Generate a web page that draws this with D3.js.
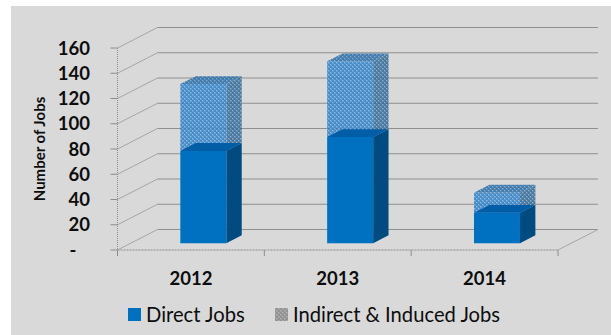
<!DOCTYPE html>
<html>
<head>
<meta charset="utf-8">
<script src="https://cdn.jsdelivr.net/npm/d3@7"></script>
<style>
html,body{margin:0;padding:0;background:#fff}
svg{display:block}
text{font-family:Lato,"Open Sans",sans-serif}
</style>
</head>
<body>
<div id="chart"></div>
<script>
// Job counts per year, stacked in a pseudo-3D column chart
const years = ["2012", "2013", "2014"];
const directJobs = [73, 84, 24];
const indirectJobs = [53, 60, 16];
const valueTicks = [0, 20, 40, 60, 80, 100, 120, 140, 160];
const tickLabels = ["-\u00a0\u00a0\u00a0", "20", "40", "60", "80", "100", "120", "140", "160"];
const legendLabels = ["Direct Jobs", "Indirect & Induced Jobs"];

const width = 611, height = 335;
const svg = d3.select("#chart").append("svg").attr("width", width).attr("height", height);

// Front-plane scales
const x = d3.scaleBand().domain(years).range([117.5, 558]);
const y = d3.scaleLinear().domain([0, 160]).range([250, 48]);

// Oblique projection: depth 0 is the front of the floor, 1 the back wall
const depthX = 40, depthY = -20.5;
const px = (xv, d) => xv + depthX * d;
const py = (v, d) => y(v) + depthY * d;

const barFront = 0.335, barBack = 0.72, barWidth = 46;

const defs = svg.append("defs");
function lattice(id, bg, dot, hole) {
  const p = defs.append("pattern").attr("id", id).attr("width", 4).attr("height", 4)
    .attr("patternUnits", "userSpaceOnUse");
  p.append("rect").attr("width", 4).attr("height", 4).attr("fill", bg);
  p.append("rect").attr("x", 0).attr("y", 0).attr("width", 2).attr("height", 2).attr("fill", dot);
  p.append("rect").attr("x", 2).attr("y", 2).attr("width", 2).attr("height", 2).attr("fill", dot);
  p.append("rect").attr("x", 2).attr("y", 0).attr("width", 1).attr("height", 1).attr("fill", hole);
  p.append("rect").attr("x", 0).attr("y", 2).attr("width", 1).attr("height", 1).attr("fill", hole);
}
lattice("frontLattice", "#4b94d2", "#2f80c6", "#86b6de");
lattice("sideLattice", "#4d7ea6", "#2f6a9a", "#8fa9bd");
lattice("topLattice", "#3f7cb0", "#2a6ea8", "#7fa5c4");
lattice("legendLattice", "#a0a0a0", "#929292", "#b4b4b4");

svg.append("rect").attr("x", 11).attr("y", 6).attr("width", 600).attr("height", 329).attr("fill", "#d9d9d9");

// Back wall gridlines and their slanted returns along the side wall
const grid = svg.append("g");
valueTicks.forEach(v => {
  grid.append("path")
    .attr("d", d3.line()([[px(x.range()[0], 0), py(v, 0)], [px(x.range()[0], 1), py(v, 1)]]))
    .attr("fill", "none").attr("stroke", "#a6a6a6").attr("stroke-width", 1);
  grid.append("line")
    .attr("x1", px(x.range()[0], 1)).attr("x2", px(x.range()[1], 1))
    .attr("y1", py(v, 1)).attr("y2", py(v, 1))
    .attr("stroke", "#8f8f8f").attr("stroke-width", 1);
});
// Floor edge on the right-hand side
grid.append("line")
  .attr("x1", px(x.range()[1], 0)).attr("x2", px(x.range()[1], 1))
  .attr("y1", py(0, 0)).attr("y2", py(0, 1))
  .attr("stroke", "#a6a6a6");

// Value axis and category axis in the front plane
const axisColor = "#8c8c8c";
svg.append("line").attr("x1", x.range()[0]).attr("x2", x.range()[0])
  .attr("y1", y(160)).attr("y2", y(0) + 6)
  .attr("stroke", axisColor).attr("stroke-dasharray", "1 1");
svg.append("line").attr("x1", x.range()[0]).attr("x2", x.range()[1])
  .attr("y1", y(0)).attr("y2", y(0))
  .attr("stroke", axisColor).attr("stroke-dasharray", "2 1");
valueTicks.forEach(v => {
  svg.append("line").attr("x1", x.range()[0] - 7).attr("x2", x.range()[0])
    .attr("y1", y(v)).attr("y2", y(v)).attr("stroke", axisColor);
});
[...years.map(c => x(c)), x.range()[1]].forEach(t => {
  svg.append("line").attr("x1", t).attr("x2", t)
    .attr("y1", y(0)).attr("y2", y(0) + 6).attr("stroke", axisColor);
});

valueTicks.forEach((v, i) => {
  svg.append("text").attr("x", 90).attr("y", y(v)).attr("dy", "0.36em")
    .attr("text-anchor", "end").attr("font-size", 18.5).attr("font-weight", 700)
    .attr("fill", "#0d0d0d").text(tickLabels[i]);
});
years.forEach(c => {
  svg.append("text").attr("x", x(c) + x.bandwidth() / 2).attr("y", 278.5).attr("dy", "0.36em")
    .attr("text-anchor", "middle").attr("font-size", 18.5).attr("font-weight", 700)
    .attr("fill", "#0d0d0d").text(c);
});
svg.append("text").attr("transform", "translate(40,149) rotate(-90)").attr("dy", "0.36em")
  .attr("text-anchor", "middle").attr("font-size", 15).attr("font-weight", 700)
  .attr("fill", "#0d0d0d").text("Number of Jobs");

// One stacked segment: front, right side and top faces
function segment(c, v0, v1, fills, opacity) {
  const x0 = x(c) + x.bandwidth() / 2 - barWidth / 2 + depthX * barFront - 1;
  const x1 = x0 + barWidth;
  const dd = barBack - barFront;
  const sx = depthX * dd, sy = depthY * dd;
  const base = depthY * barFront;
  const g = svg.append("g").attr("opacity", opacity);
  const poly = (pts, fill) => g.append("polygon").attr("points", pts.map(p => p.join(",")).join(" ")).attr("fill", fill);
  poly([[x1, y(v0) + base], [x1 + sx, y(v0) + base + sy], [x1 + sx, y(v1) + base + sy], [x1, y(v1) + base]], fills.side);
  poly([[x0, y(v1) + base], [x0 + sx, y(v1) + base + sy], [x1 + sx, y(v1) + base + sy], [x1, y(v1) + base]], fills.top);
  poly([[x0, y(v0) + base], [x1, y(v0) + base], [x1, y(v1) + base], [x0, y(v1) + base]], fills.front);
}
years.forEach((c, i) => {
  segment(c, directJobs[i], directJobs[i] + indirectJobs[i],
    { front: "url(#frontLattice)", side: "url(#sideLattice)", top: "url(#topLattice)" }, 0.85);
  segment(c, 0, directJobs[i], { front: "#0070c0", side: "#004b80", top: "#005ea6" }, 1);
});

// Legend
const legendX = [128, 275];
const legendFills = ["#0070c0", "url(#legendLattice)"];
legendLabels.forEach((label, i) => {
  svg.append("rect").attr("x", legendX[i]).attr("y", 308).attr("width", 13).attr("height", 13).attr("fill", legendFills[i]);
  svg.append("text").attr("x", legendX[i] + 18).attr("y", 314.5).attr("dy", "0.36em")
    .attr("font-size", 20.2).attr("fill", "#0d0d0d").text(label);
});
</script>
</body>
</html>
